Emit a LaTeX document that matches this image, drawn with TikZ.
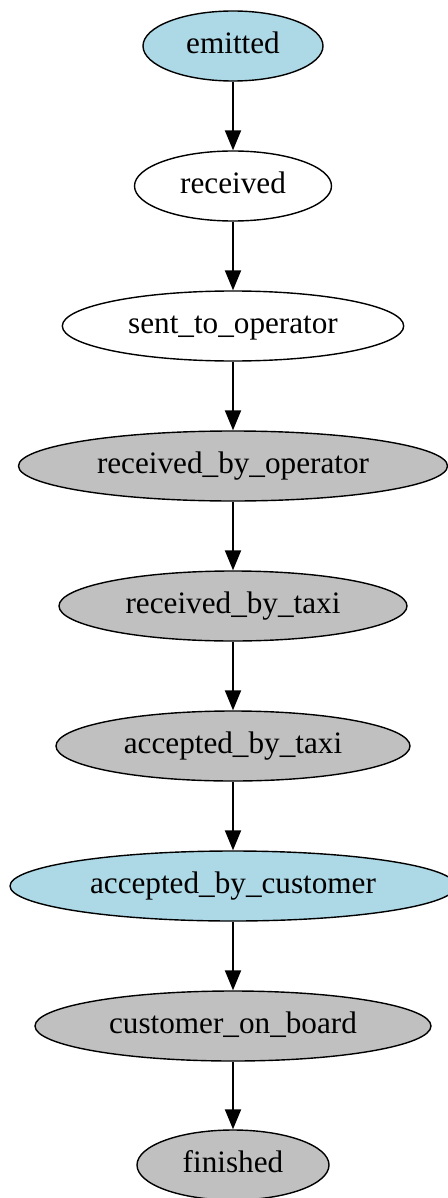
\documentclass[tikz,border=0pt]{standalone}
\usepackage{fontspec}
\setmainfont{Liberation Serif}
\usetikzlibrary{shapes.geometric,arrows.meta}
\definecolor{gvblue}{HTML}{ADD8E6}
\definecolor{gvgrey}{HTML}{C0C0C0}
\tikzset{
  state/.style={ellipse, draw=black, line width=0.7pt, inner sep=0pt,
    minimum height=35pt, font=\fontsize{15.6}{18}\selectfont,
    text height=11pt, text depth=3.5pt},
  bluestate/.style={state, fill=gvblue},
  greystate/.style={state, fill=gvgrey},
  whitestate/.style={state, fill=white},
  flow/.style={line width=1pt, -{Triangle[length=10pt,width=8pt]}}
}
\begin{document}
\begin{tikzpicture}[x=0.5pt,y=-0.5pt]
\useasboundingbox (0,0) rectangle (448,1198);
\clip (0,0) rectangle (448,1198);
\node[bluestate,  minimum width=90pt]    (emitted) at (233,46)   {emitted};
\node[whitestate, minimum width=98.5pt]  (received) at (233,186) {received};
\node[whitestate, minimum width=170.7pt] (sent) at (233,326)     {sent\_to\_operator};
\node[greystate,  minimum width=214.5pt] (rbo) at (233,466)      {received\_by\_operator};
\node[greystate,  minimum width=174pt]   (rbt) at (233,606)      {received\_by\_taxi};
\node[greystate,  minimum width=177pt]   (abt) at (233,746)      {accepted\_by\_taxi};
\node[bluestate,  minimum width=223pt]   (abc) at (233,886)      {accepted\_by\_customer};
\node[greystate,  minimum width=198pt]   (cob) at (233,1026)     {customer\_on\_board};
\node[greystate,  minimum width=96pt]    (fin) at (233,1165)     {finished};
\draw[flow] (emitted) -- (received);
\draw[flow] (received) -- (sent);
\draw[flow] (sent) -- (rbo);
\draw[flow] (rbo) -- (rbt);
\draw[flow] (rbt) -- (abt);
\draw[flow] (abt) -- (abc);
\draw[flow] (abc) -- (cob);
\draw[flow] (cob) -- (fin);
\end{tikzpicture}
\end{document}
